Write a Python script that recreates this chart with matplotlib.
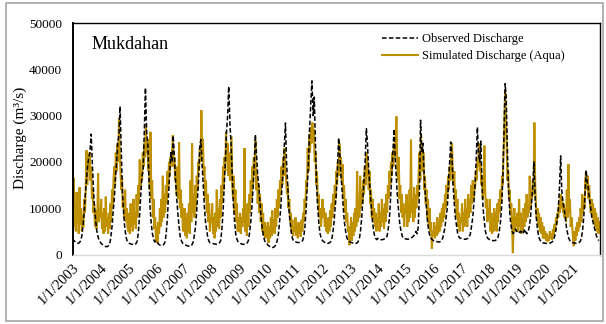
import datetime as dt
import numpy as np
import matplotlib
matplotlib.use("Agg")
import matplotlib.pyplot as plt
from matplotlib.patches import Rectangle

plt.rcParams["font.family"] = ["Liberation Serif", "DejaVu Serif"]

station = "Mukdahan"
years = list(range(2003, 2022))
tick_labels = [f"1/1/{y}" for y in years]
y_ticks = [0, 10000, 20000, 30000, 40000, 50000]

# Observed discharge (m3/s), sampled on the 1st and 15th of each month
obs_2003 = [3500, 3000, 2800, 2600, 2500, 2400, 2600, 3000, 4000, 6000, 9000, 13000, 16000, 19000, 21000, 22000, 26000, 20000, 14000, 10000, 7000, 5000, 3800, 3000]
obs_2004 = [2600, 2300, 2100, 1900, 1800, 1700, 1700, 1900, 2300, 3500, 6000, 9000, 12000, 16000, 20000, 24000, 26000, 32000, 22000, 14000, 9000, 6000, 4000, 3000]
obs_2005 = [2600, 2400, 2300, 2200, 2200, 2100, 2200, 2400, 3000, 5000, 9000, 13000, 17000, 18000, 27000, 36000, 26000, 24000, 16000, 10000, 6500, 4500, 3300, 2700]
obs_2006 = [3000, 2600, 2300, 2100, 2000, 2000, 2000, 2200, 2800, 4500, 8000, 13000, 18000, 22000, 20000, 25700, 21000, 16000, 12000, 9000, 6000, 4000, 3000, 2500]
obs_2007 = [2300, 2100, 2000, 1900, 1800, 1800, 1800, 2000, 2500, 3500, 5500, 8000, 12000, 16000, 23500, 24800, 19000, 15000, 10000, 7000, 5000, 3500, 2800, 2500]
obs_2008 = [2500, 2400, 2300, 2300, 2200, 2200, 2300, 2500, 3000, 5000, 9000, 14000, 20000, 26000, 30000, 36300, 28000, 24000, 17000, 11000, 7000, 4500, 3300, 2800]
obs_2009 = [2600, 2400, 2300, 2200, 2200, 2200, 2300, 2500, 3000, 4500, 7000, 10000, 14000, 19000, 25900, 22000, 17000, 15000, 11000, 8000, 5500, 4000, 3000, 2500]
obs_2010 = [2300, 2000, 1800, 1600, 1500, 1500, 1600, 1800, 2200, 3000, 4500, 7000, 10000, 14000, 18000, 23000, 28400, 20000, 15000, 10000, 7000, 5000, 3500, 3000]
obs_2011 = [2800, 2700, 2600, 2600, 2600, 2700, 2800, 3000, 4000, 6000, 10000, 15000, 20000, 27000, 33000, 37500, 30000, 34000, 24000, 15000, 10000, 6500, 4500, 3500]
obs_2012 = [3000, 2800, 2600, 2500, 2500, 2400, 2500, 2700, 3200, 4500, 7000, 10000, 13000, 18000, 25200, 22000, 17000, 14000, 10000, 7000, 5000, 3800, 3000, 2800]
obs_2013 = [2700, 2600, 2500, 2500, 2400, 2400, 2500, 2800, 3500, 5000, 8000, 12000, 16000, 20000, 27200, 24000, 18000, 15000, 11000, 8000, 5500, 4200, 3500, 3200]
obs_2014 = [3500, 3300, 3200, 3200, 3200, 3300, 3400, 3500, 4000, 5500, 8000, 12000, 17000, 22000, 27100, 21000, 16000, 12000, 9000, 6500, 5000, 4000, 3500, 3400]
obs_2015 = [3400, 3300, 3300, 3400, 3500, 3600, 3800, 4000, 4500, 5000, 4500, 6000, 14000, 29000, 22000, 24000, 17000, 13000, 10000, 7000, 5000, 4000, 3500, 3200]
obs_2016 = [3000, 2900, 2800, 2800, 2700, 2700, 2800, 3000, 3500, 4500, 6000, 8000, 10000, 15000, 20000, 24300, 21000, 15000, 11000, 8000, 6000, 4500, 3800, 3500]
obs_2017 = [3500, 3400, 3300, 3300, 3300, 3400, 3500, 3800, 4500, 6000, 8000, 11000, 15000, 20000, 27500, 22000, 20000, 24500, 15000, 10000, 7000, 5000, 4000, 3500]
obs_2018 = [3300, 3100, 3000, 3000, 3000, 3000, 3100, 3300, 3800, 5000, 7000, 10000, 16000, 25000, 36900, 34000, 22000, 14000, 9000, 6500, 5000, 4500, 5000, 5500]
obs_2019 = [5000, 4800, 4600, 5000, 4800, 5200, 4700, 5500, 4800, 4500, 5000, 6000, 8000, 11000, 15000, 20000, 12000, 8000, 5500, 4000, 3200, 2800, 2600, 2500]
obs_2020 = [2500, 2400, 2400, 2400, 2400, 2500, 2600, 2800, 3200, 4000, 5500, 7500, 10000, 14000, 21300, 14000, 11000, 10000, 8000, 6000, 4500, 3500, 3000, 2700]
obs_2021 = [2600, 2500, 2500, 2400, 2400, 2500, 2600, 2800, 3500, 5000, 8000, 12000, 18200, 16000, 14000, 12000, 10000, 8000, 7000, 6000, 5000, 4000, 3500, 3000]

# Simulated discharge (m3/s), sampled on the 1st, 11th and 21st of each month
sim_2003 = [0, 16500, 6000, 11000, 5000, 13500, 7000, 9500, 4500, 14500, 6500, 10000, 5000, 8500, 6000, 12000, 9000, 14000, 22500, 15000, 21000, 18000, 22000, 16000, 19000, 12000, 14000, 9000, 11000, 6000, 9500, 5500, 8000, 17500, 7000, 9000]
sim_2004 = [8000, 12000, 5500, 9000, 4500, 10000, 5000, 12500, 6000, 8000, 4500, 9000, 5500, 11000, 7000, 14000, 10000, 16000, 19000, 15000, 22000, 18000, 24000, 20000, 29500, 22000, 18000, 14000, 17000, 10000, 12000, 8000, 14000, 7000, 10000, 6000]
sim_2005 = [5000, 9000, 4500, 11000, 6000, 8500, 5000, 12000, 6500, 9000, 5500, 13000, 8000, 15000, 11000, 20500, 14000, 18000, 16000, 22000, 19000, 24000, 21000, 28200, 22000, 25000, 18000, 20000, 14000, 26500, 12000, 16000, 8000, 12000, 5500, 8000]
sim_2006 = [3000, 6000, 2500, 7000, 4500, 10000, 6000, 12000, 7000, 17000, 8000, 13000, 9000, 15000, 11000, 18000, 14000, 20000, 17000, 21000, 19000, 22000, 25800, 19000, 21000, 16000, 18000, 13000, 19000, 12000, 24200, 10000, 14000, 8000, 11000, 5000]
sim_2007 = [6000, 10000, 4000, 8000, 3500, 9000, 5000, 11000, 4500, 16000, 7000, 24000, 9000, 13000, 8000, 15000, 10000, 17000, 14000, 20000, 18000, 23000, 20000, 31200, 22000, 25000, 17000, 19000, 12000, 16000, 9000, 13000, 7000, 11000, 5000, 8000]
sim_2008 = [7000, 11000, 4500, 8000, 3500, 9000, 5000, 14000, 6000, 10000, 5500, 12000, 8000, 15000, 11000, 19000, 14000, 21000, 18000, 26500, 20000, 24000, 17000, 22000, 16000, 21000, 25500, 15000, 12000, 17000, 9000, 14000, 7000, 11000, 5000, 8000]
sim_2009 = [5000, 9000, 4500, 8000, 6000, 10000, 7000, 23000, 5000, 9000, 4000, 11000, 6000, 13000, 9000, 16000, 12000, 19000, 15000, 21000, 17000, 24700, 14000, 18000, 11000, 15000, 9000, 13000, 7000, 11000, 5000, 9000, 4000, 7000, 3500, 6000]
sim_2010 = [4000, 7000, 2500, 6000, 3500, 8000, 4000, 9500, 5000, 7500, 4500, 10000, 6000, 12000, 8000, 14000, 10000, 16000, 13000, 19000, 15000, 21000, 17000, 23000, 18000, 16000, 13000, 15000, 10000, 12000, 7000, 9000, 5000, 7500, 4000, 6000]
sim_2011 = [5000, 8000, 4000, 6500, 3500, 7000, 4500, 6000, 3800, 7500, 5000, 9000, 7000, 12000, 10000, 16000, 14000, 23000, 18000, 26000, 22000, 27500, 24000, 28500, 25000, 27000, 20000, 22000, 15000, 18000, 11000, 13000, 8000, 10000, 6000, 8000]
sim_2012 = [12000, 8000, 10000, 6000, 9000, 5000, 7500, 4500, 8000, 5000, 9500, 6000, 11000, 8000, 13000, 10000, 15000, 12000, 18000, 15000, 20000, 17000, 24000, 19000, 21000, 16000, 19500, 12000, 15000, 9000, 12000, 7000, 9000, 5000, 6000, 2000]
sim_2013 = [4000, 8000, 3000, 7000, 4000, 9000, 5000, 10000, 6000, 18000, 7000, 12000, 8000, 17000, 10000, 14000, 11000, 16000, 13000, 19000, 15000, 22000, 17000, 20000, 14000, 18000, 11000, 14000, 8000, 12000, 7000, 10000, 6000, 9000, 5000, 8000]
sim_2014 = [7000, 11000, 5000, 9000, 6000, 12000, 7000, 10000, 5500, 11000, 7000, 13000, 9000, 15000, 12000, 18000, 15000, 20000, 17000, 22000, 19000, 24000, 21000, 26000, 29800, 20000, 16000, 21000, 12000, 15000, 9000, 13000, 8000, 11000, 6000, 10000]
sim_2015 = [9000, 13000, 6000, 11000, 7000, 14000, 8000, 24800, 9000, 12000, 7000, 14500, 8000, 13000, 10000, 15000, 12000, 18000, 22000, 16000, 26000, 20000, 18000, 22000, 14000, 17000, 11000, 14000, 8000, 12000, 6000, 10000, 5000, 7000, 1200, 5000]
sim_2016 = [4000, 7000, 3500, 6000, 4000, 8000, 4500, 7000, 5000, 9000, 6000, 10000, 7000, 11000, 8000, 13000, 10000, 15000, 12000, 17000, 14000, 19000, 16000, 22000, 24000, 18000, 15000, 18000, 11000, 14000, 8000, 12000, 6000, 9000, 5000, 8000]
sim_2017 = [7000, 11000, 5000, 9000, 6000, 12000, 7000, 10000, 6000, 13000, 8000, 12000, 9000, 15000, 11000, 16000, 12000, 15000, 14000, 18000, 16000, 21000, 19000, 24000, 18000, 20000, 15000, 17000, 12000, 15000, 23500, 14000, 10000, 12000, 7000, 10000]
sim_2018 = [8000, 12000, 5000, 9000, 4500, 8000, 5000, 10000, 6000, 9000, 5000, 11000, 7000, 12000, 9000, 14000, 11000, 17000, 15000, 22000, 27000, 35500, 30000, 24000, 16000, 18000, 12000, 14000, 9000, 11000, 6000, 300, 7000, 10000, 5000, 8000]
sim_2019 = [6000, 9000, 5000, 12000, 6000, 9000, 4500, 8000, 5000, 10000, 6000, 11000, 7000, 13000, 8000, 10000, 9000, 17000, 10000, 14000, 12000, 16000, 13000, 28500, 15000, 11000, 8000, 10000, 6000, 9000, 5000, 8000, 4500, 7000, 3500, 6000]
sim_2020 = [3500, 5000, 3000, 4500, 2800, 4000, 3000, 5000, 3500, 4500, 3200, 5500, 4000, 6500, 5000, 8000, 6500, 9000, 8000, 11000, 9000, 13000, 10000, 12000, 9000, 11000, 8000, 10000, 7000, 14000, 8000, 19500, 9000, 12000, 6000, 8000]
sim_2021 = [6000, 3500, 1800, 5000, 3000, 6000, 4000, 7000, 5000, 8000, 6000, 10000, 7000, 13000, 9000, 12000, 10000, 16000, 18000, 14000, 17000, 12000, 15000, 11000, 9000, 12000, 8000, 11000, 7000, 10000, 6000, 9000, 5000, 8000, 4500, 7000]

obs_years = [obs_2003, obs_2004, obs_2005, obs_2006, obs_2007, obs_2008, obs_2009,
             obs_2010, obs_2011, obs_2012, obs_2013, obs_2014, obs_2015, obs_2016,
             obs_2017, obs_2018, obs_2019, obs_2020, obs_2021]
sim_years = [sim_2003, sim_2004, sim_2005, sim_2006, sim_2007, sim_2008, sim_2009,
             sim_2010, sim_2011, sim_2012, sim_2013, sim_2014, sim_2015, sim_2016,
             sim_2017, sim_2018, sim_2019, sim_2020, sim_2021]


def sample_dates(year, days):
    return [dt.datetime(year, m, d) for m in range(1, 13) for d in days]


obs_dates, obs_vals, sim_dates, sim_vals = [], [], [], []
for y, o, s in zip(years, obs_years, sim_years):
    obs_dates += sample_dates(y, (1, 15))
    obs_vals += o
    sim_dates += sample_dates(y, (1, 11, 21))
    sim_vals += s

gold = "#BF9000"

fig = plt.figure(figsize=(6.06, 3.24), dpi=100)
ax = fig.add_axes([0.12, 0.2145, 0.870, 0.7145])

ax.plot(sim_dates, sim_vals, color=gold, lw=1.5, solid_joinstyle="miter",
        label="Simulated Discharge (Aqua)", zorder=2)
ax.plot(obs_dates, obs_vals, color="black", lw=1.1, linestyle=(0, (3, 1.5)),
        label="Observed Discharge", zorder=3)

ax.set_ylim(0, 50000)
ax.set_yticks(y_ticks)
ax.set_yticklabels([str(v) for v in y_ticks], fontsize=9.5)
ax.set_xlim(dt.datetime(2003, 1, 1), dt.datetime(2021, 12, 31))
ax.set_xticks([dt.datetime(y, 1, 1) for y in years])
ax.set_xticklabels(tick_labels, rotation=45, ha="right", va="top",
                   rotation_mode="anchor", fontsize=10.5)
ax.tick_params(axis="both", length=0)
ax.tick_params(axis="y", pad=7.5)
ax.tick_params(axis="x", pad=5)

fig.text(20 / 606, 1 - 138 / 324, "Discharge (m\u00b3/s)", rotation=90,
         ha="center", va="center", fontsize=11)

for side in ("left", "top", "right"):
    ax.spines[side].set_color("black")
    ax.spines[side].set_linewidth(1.0)
ax.spines["left"].set_linewidth(1.4)
ax.spines["bottom"].set_color("#D9D9D9")
ax.spines["bottom"].set_linewidth(1.0)

ax.text(0.035, 0.905, station, transform=ax.transAxes, fontsize=13,
        ha="left", va="center")

handles, labels = ax.get_legend_handles_labels()
leg = ax.legend(handles[::-1], labels[::-1], loc="upper left",
                bbox_to_anchor=(0.565, 1.005), frameon=False, fontsize=9,
                handlelength=2.9, handletextpad=0.3, labelspacing=0.4)

fig.patches.append(Rectangle((6 / 606, 3 / 324), 597 / 606, 318 / 324,
                             transform=fig.transFigure, fill=False,
                             edgecolor="#A6A6A6", lw=1.2))

fig.savefig("out.png", dpi=100)
